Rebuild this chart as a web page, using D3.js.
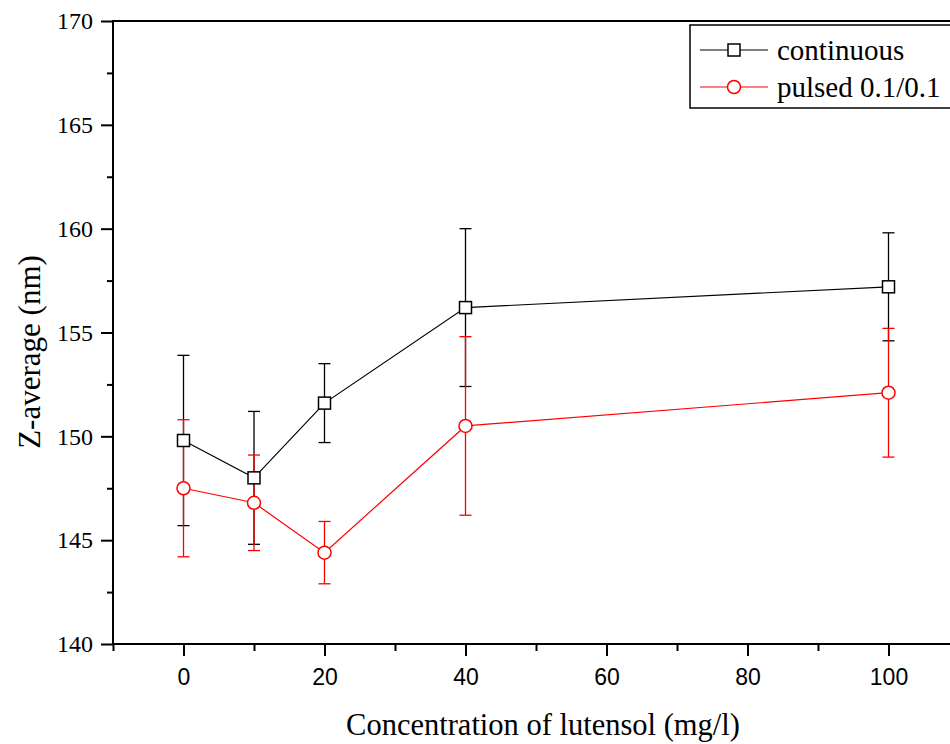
<!DOCTYPE html>
<html>
<head>
<meta charset="utf-8">
<script src="https://cdn.jsdelivr.net/npm/d3@7"></script>
<style>
  body { margin: 0; background: #fff; }
  svg { display: block; }
</style>
</head>
<body>
<svg id="chart" width="950" height="744"></svg>
<script>
// data
var conc = [0, 10, 20, 40, 100];
var contMean = [149.8, 148.0, 151.6, 156.2, 157.2];
var contHi   = [153.9, 151.2, 153.5, 160.0, 159.8];
var contLo   = [145.7, 144.8, 149.7, 152.4, 154.6];
var pulsMean = [147.5, 146.8, 144.4, 150.5, 152.1];
var pulsHi   = [150.8, 149.1, 145.9, 154.8, 155.2];
var pulsLo   = [144.2, 144.5, 142.9, 146.2, 149.0];
var seriesNames = ["continuous", "pulsed 0.1/0.1"];
var xMajor = [0, 20, 40, 60, 80, 100];
var xMinor = [-10, 10, 30, 50, 70, 90, 110];
var yMajor = [140, 145, 150, 155, 160, 165, 170];
var yMinor = [142.5, 147.5, 152.5, 157.5, 162.5, 167.5];

var svg = d3.select("svg#chart");

var x = d3.scaleLinear().domain([-10, 110]).range([113, 959]);
var y = d3.scaleLinear().domain([140, 170]).range([644, 21]);

var serif = "'Liberation Serif', 'Times New Roman', serif";
var sans = "'Liberation Sans', Arial, sans-serif";

//frame
svg.append("rect")
    .attr("x", x(-10)).attr("y", y(170))
    .attr("width", x(110) - x(-10)).attr("height", y(140) - y(170))
    .attr("fill", "none").attr("stroke", "#000").attr("stroke-width", 2);

//x axis
var xAxis = svg.append("g").attr("transform", "translate(0," + y(140) + ")");
xAxis.call(d3.axisBottom(x).tickValues(xMajor).tickSize(12).tickFormat(d3.format("d")));
xAxis.append("g").call(d3.axisBottom(x).tickValues(xMinor).tickSize(7).tickFormat(""));
xAxis.selectAll(".domain").remove();
xAxis.selectAll("line").attr("stroke-width", 2);
xAxis.selectAll("text")
    .style("font-family", sans).style("font-size", "23px").attr("fill", "#000")
    .attr("dy", null).attr("y", 41);

//y axis
var yAxis = svg.append("g").attr("transform", "translate(" + x(-10) + ",0)");
yAxis.call(d3.axisLeft(y).tickValues(yMajor).tickSize(12).tickFormat(d3.format("d")));
yAxis.append("g").call(d3.axisLeft(y).tickValues(yMinor).tickSize(6).tickFormat(""));
yAxis.selectAll(".domain").remove();
yAxis.selectAll("line").attr("stroke-width", 2);
yAxis.selectAll("text")
    .style("font-family", serif).style("font-size", "24px").attr("fill", "#000")
    .attr("x", -20);

//axis titles
svg.append("text")
    .attr("x", 543).attr("y", 735)
    .attr("text-anchor", "middle")
    .style("font-family", serif).style("font-size", "30.5px")
    .text("Concentration of lutensol (mg/l)");

svg.append("text")
    .attr("transform", "translate(40,352) rotate(-90)")
    .attr("text-anchor", "middle")
    .style("font-family", serif).style("font-size", "31px")
    .text("Z-average (nm)");

var series = [
  {name: seriesNames[0], color: "#000", shape: "square", mean: contMean, hi: contHi, lo: contLo},
  {name: seriesNames[1], color: "#ff0000", shape: "circle", mean: pulsMean, hi: pulsHi, lo: pulsLo}
];

var line = d3.line()
    .x(function(d) { return x(d.c); })
    .y(function(d) { return y(d.v); });

function pts(s) {
  return conc.map(function(c, i) { return {c: c, v: s.mean[i], hi: s.hi[i], lo: s.lo[i]}; });
}

//connecting lines
series.forEach(function(s) {
  svg.append("path")
      .datum(pts(s))
      .attr("d", line)
      .attr("fill", "none")
      .attr("stroke", s.color)
      .attr("stroke-width", 1.2);
});

//error bars
series.forEach(function(s) {
  var g = svg.append("g").attr("stroke", s.color).attr("stroke-width", 1.3);
  var p = pts(s);
  g.selectAll("line.bar").data(p).enter().append("line")
      .attr("x1", function(d) { return x(d.c); }).attr("x2", function(d) { return x(d.c); })
      .attr("y1", function(d) { return y(d.hi); }).attr("y2", function(d) { return y(d.lo); });
  g.selectAll("line.capHi").data(p).enter().append("line")
      .attr("x1", function(d) { return x(d.c) - 6; }).attr("x2", function(d) { return x(d.c) + 6; })
      .attr("y1", function(d) { return y(d.hi); }).attr("y2", function(d) { return y(d.hi); });
  g.selectAll("line.capLo").data(p).enter().append("line")
      .attr("x1", function(d) { return x(d.c) - 6; }).attr("x2", function(d) { return x(d.c) + 6; })
      .attr("y1", function(d) { return y(d.lo); }).attr("y2", function(d) { return y(d.lo); });
});

function marker(g, s, cx, cy) {
  if (s.shape === "square") {
    g.append("rect")
        .attr("x", cx - 6).attr("y", cy - 6).attr("width", 12).attr("height", 12)
        .attr("fill", "#fff").attr("stroke", s.color).attr("stroke-width", 1.5);
  } else {
    g.append("circle")
        .attr("cx", cx).attr("cy", cy).attr("r", 6.5)
        .attr("fill", "#fff").attr("stroke", s.color).attr("stroke-width", 1.5);
  }
}

//markers
series.forEach(function(s) {
  var g = svg.append("g");
  pts(s).forEach(function(d) { marker(g, s, x(d.c), y(d.v)); });
});

//legend
var legend = svg.append("g");
legend.append("rect")
    .attr("x", 690).attr("y", 25).attr("width", 280).attr("height", 83)
    .attr("fill", "#fff").attr("stroke", "#000").attr("stroke-width", 1.5);
series.forEach(function(s, i) {
  var ly = 50 + i * 37;
  legend.append("line")
      .attr("x1", 700).attr("x2", 768).attr("y1", ly).attr("y2", ly)
      .attr("stroke", s.color).attr("stroke-width", 1.2);
  marker(legend, s, 734, ly);
  legend.append("text")
      .attr("x", 777).attr("y", ly + 10)
      .style("font-family", serif).style("font-size", "29px")
      .text(s.name);
});
</script>
</body>
</html>
